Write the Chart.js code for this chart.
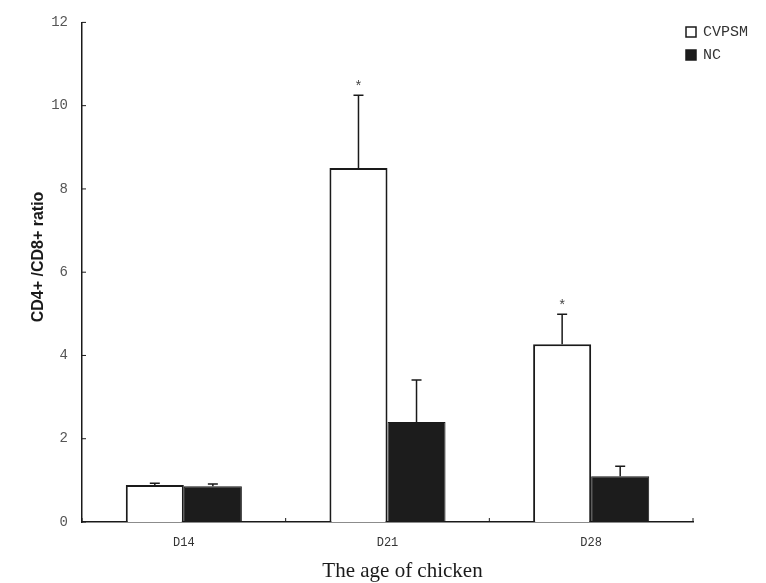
<!DOCTYPE html>
<html lang="en">
<head>
<meta charset="UTF-8" />
<title>CD4+/CD8+ ratio</title>
<script src="https://cdn.jsdelivr.net/npm/chart.js"></script>
<style>
  html, body { margin: 0; padding: 0; background: #fff; }
  #wrap { width: 766px; height: 583px; }
</style>
</head>
<body>
<div id="wrap"><canvas id="chart" width="766" height="583"></canvas></div>
<script>
const categories = ['D14', 'D21', 'D28'];
const seriesNames = ['CVPSM', 'NC'];
const cvpsm = [0.89, 8.5, 4.27];
const nc = [0.86, 2.4, 1.1];
const cvpsmErr = [0.04, 1.75, 0.72];
const ncErr = [0.05, 1.01, 0.24];
const cvpsmMarks = ['', '*', '*'];
const ncMarks = ['', '', ''];
const yTicks = [0, 2, 4, 6, 8, 10, 12];

const serif = '"Liberation Serif", "DejaVu Serif", serif';
const mono = '"Liberation Mono", "DejaVu Sans Mono", monospace';
const ink = '#1a1a1a';

const extras = {
  id: 'extras',
  afterDatasetsDraw(chart) {
    const { ctx, scales: { x, y }, chartArea } = chart;
    const errs = [cvpsmErr, ncErr];
    const marks = [cvpsmMarks, ncMarks];
    ctx.save();
    ctx.strokeStyle = ink;
    ctx.lineWidth = 1.5;
    // error bars (upper only) and significance stars
    chart.data.datasets.forEach((ds, di) => {
      const meta = chart.getDatasetMeta(di);
      meta.data.forEach((bar, i) => {
        const top = y.getPixelForValue(ds.data[i] + errs[di][i]);
        const base = y.getPixelForValue(ds.data[i]);
        ctx.beginPath();
        ctx.moveTo(bar.x, base);
        ctx.lineTo(bar.x, top);
        ctx.moveTo(bar.x - 5, top);
        ctx.lineTo(bar.x + 5, top);
        ctx.stroke();
        if (marks[di][i]) {
          ctx.fillStyle = '#444';
          ctx.font = '14px ' + mono;
          ctx.textAlign = 'center';
          ctx.textBaseline = 'bottom';
          ctx.fillText(marks[di][i], bar.x, top - 1);
        }
      });
    });
    // inward tick marks
    ctx.lineWidth = 1;
    yTicks.forEach(v => {
      const py = y.getPixelForValue(v);
      ctx.beginPath();
      ctx.moveTo(chartArea.left, py);
      ctx.lineTo(chartArea.left + 4, py);
      ctx.stroke();
    });
    for (let i = 0; i <= categories.length; i++) {
      const px = chartArea.left + (chartArea.right - chartArea.left) * i / categories.length;
      ctx.beginPath();
      ctx.moveTo(px, chartArea.bottom);
      ctx.lineTo(px, chartArea.bottom - 4);
      ctx.stroke();
    }
    // axis titles
    ctx.fillStyle = ink;
    ctx.font = '21px ' + serif;
    ctx.textAlign = 'center';
    ctx.textBaseline = 'middle';
    ctx.fillText('The age of chicken', (chartArea.left + chartArea.right) / 2 + 15, 571);
    ctx.save();
    ctx.translate(39, 257);
    ctx.rotate(-Math.PI / 2);
    ctx.font = 'bold 16px "Liberation Sans", Arial, sans-serif';
    ctx.fillText('CD4+ /CD8+ ratio', 0, 0);
    ctx.restore();
    // legend
    ctx.font = '15px ' + mono;
    ctx.textAlign = 'left';
    chart.data.datasets.forEach((ds, di) => {
      const ly = 32 + di * 23;
      ctx.fillStyle = ds.backgroundColor;
      ctx.fillRect(686, ly - 5, 10, 10);
      ctx.strokeStyle = ink;
      ctx.lineWidth = 1.5;
      ctx.strokeRect(686, ly - 5, 10, 10);
      ctx.fillStyle = '#333';
      ctx.fillText(seriesNames[di], 703, ly);
    });
    ctx.restore();
  }
};

new Chart(document.getElementById('chart'), {
  type: 'bar',
  data: {
    labels: categories,
    datasets: [
      { label: seriesNames[0], data: cvpsm, backgroundColor: '#ffffff', borderColor: ink, borderWidth: 2 },
      { label: seriesNames[1], data: nc, backgroundColor: '#1c1c1c', borderColor: ink, borderWidth: 1 }
    ]
  },
  options: {
    responsive: false,
    animation: false,
    categoryPercentage: 0.57,
    barPercentage: 1,
    layout: { padding: { top: 22, right: 73, left: 0, bottom: 0 } },
    plugins: { legend: { display: false }, tooltip: { enabled: false } },
    scales: {
      x: {
        afterFit: s => { s.height = 61; },
        grid: { display: false, drawTicks: false },
        border: { color: ink, width: 1.5 },
        ticks: { color: '#333', font: { family: mono, size: 12 }, padding: 14 }
      },
      y: {
        min: 0,
        max: 12,
        afterFit: s => { s.width = 82; },
        afterBuildTicks: s => { s.ticks = yTicks.map(v => ({ value: v })); },
        grid: { display: false, drawTicks: false },
        border: { color: ink, width: 1.5 },
        ticks: { color: '#555', font: { family: mono, size: 14 }, padding: 14 }
      }
    }
  },
  plugins: [extras]
});
</script>
</body>
</html>
